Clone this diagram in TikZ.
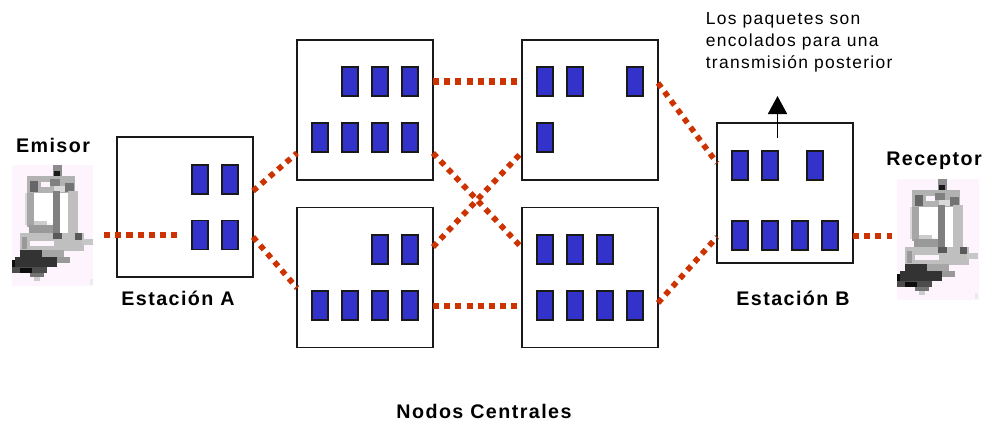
\documentclass[tikz,border=0pt]{standalone}
\usepackage{fontspec}
\setmainfont{Liberation Sans}
\usetikzlibrary{arrows.meta}
\definecolor{azulpaq}{HTML}{3333CC}
\definecolor{rojoenlace}{HTML}{CC3300}
\definecolor{fondopc}{HTML}{FDF4FD}
\begin{document}
\begin{tikzpicture}[x=0.025cm,y=-0.025cm,
                      estacion/.style={rectangle,draw=black!90,fill=white,line width=1.1pt,outer sep=0pt,
                      inner sep=0pt,minimum width=3.4cm,minimum height=3.5cm},
                      paquete/.style={rectangle,fill=azulpaq,draw=black!90,line width=1pt,outer sep=0pt,
                      inner sep=0pt,minimum width=0.4cm,minimum height=0.72cm},
                      enlace/.style={draw=rojoenlace,line width=4.27pt,dash pattern=on 4.27pt off 3.7pt},
                      cruce/.style={draw=rojoenlace,line width=4pt,dash pattern=on 4pt off 3.8pt},
                      icono/.style={rectangle,fill=fondopc,outer sep=0pt,inner sep=0pt,
                      minimum width=2.03cm,minimum height=3.03cm},
                      rotulo/.style={inner sep=0pt,anchor=base,
                      font=\fontsize{14}{16}\selectfont\bfseries\addfontfeature{LetterSpace=7.3}},
                      pc/.pic={
                        \fill[black!45] (41,0) rectangle (50,15);
                        \fill[black!90] (42,6) rectangle (48,13);
                        \fill[black!30] (15,11) rectangle (63,28);
                        \fill[fondopc] (29,17) rectangle (38,22);
                        \fill[black!60] (18,16) rectangle (26,27);
                        \fill[black!50] (38,14) rectangle (48,21);
                        \fill[black!15] (42,21) rectangle (53,27);
                        \fill[black!55] (53,18) rectangle (62,27);
                        \fill[black!15] (13,28) rectangle (15,60);
                        \fill[black!35] (15,28) rectangle (22,62);
                        \fill[black!25] (56,26) rectangle (66,70);
                        \fill[white] (22,28) rectangle (41,58);
                        \fill[white] (48,28) rectangle (56,68);
                        \fill[black!50] (41,26) rectangle (48,70);
                        \fill[black!40] (17,60) rectangle (41,68);
                        \fill[black!20] (22,56) rectangle (35,60);
                        \fill[black!25] (8,68) rectangle (72,86);
                        \fill[fondopc] (18,76) rectangle (42,81);
                        \fill[black!40] (10,72) rectangle (15,84);
                        \fill[black!65] (63,68) rectangle (70,75);
                        \fill[black!65] (41,68) rectangle (50,74);
                        \fill[black!22] (70,74) rectangle (81,80);
                        \fill[black!35] (30,85) rectangle (52,92);
                        \fill[black!40] (45,92) rectangle (58,98);
                        \fill[black!80] (8,85) rectangle (30,92);
                        \fill[black!80] (3,92) rectangle (45,102);
                        \fill[black!95] (0,95) rectangle (3,102);
                        \fill[black!70] (0,102) rectangle (35,108);
                        \fill[black!95] (8,103) rectangle (20,108);
                        \fill[black!55] (18,108) rectangle (32,112);
                        \fill[black!20] (22,112) rectangle (28,116);
                        \fill[black!8] (78,114) rectangle (81,120);
                      }
                     ]
   \useasboundingbox (0,0) rectangle (984,421);
   \node[icono] (emisor) at (52.5,225.5) {};
   \node[icono] (receptor) at (938.0,239.5) {};
   \pic at (emisor.north west) {pc};
   \pic at (receptor.north west) {pc};
   \node[estacion] (estA) at (185.0,207.0) {};
   \node[estacion] (nodoA) at (365.0,110.0) {};
   \node[estacion] (nodoB) at (365.0,277.5) {};
   \node[estacion] (nodoC) at (590.0,110.0) {};
   \node[estacion] (nodoD) at (590.0,277.5) {};
   \node[estacion] (estB) at (785.0,193.0) {};
   \node[paquete] (a1) at (200.0,179.5) {};
   \node[paquete] (a2) at (230.0,179.5) {};
   \node[paquete] (a3) at (200.0,235.0) {};
   \node[paquete] (a4) at (230.0,235.0) {};
   \node[paquete] (na1) at (350.0,81.5) {};
   \node[paquete] (na2) at (380.0,81.5) {};
   \node[paquete] (na3) at (410.0,81.5) {};
   \node[paquete] (na4) at (320.0,137.5) {};
   \node[paquete] (na5) at (350.0,137.5) {};
   \node[paquete] (na6) at (380.0,137.5) {};
   \node[paquete] (na7) at (410.0,137.5) {};
   \node[paquete] (nb1) at (380.0,249.5) {};
   \node[paquete] (nb2) at (410.0,249.5) {};
   \node[paquete] (nb3) at (320.0,305.5) {};
   \node[paquete] (nb4) at (350.0,305.5) {};
   \node[paquete] (nb5) at (380.0,305.5) {};
   \node[paquete] (nb6) at (410.0,305.5) {};
   \node[paquete] (nc1) at (545.0,81.5) {};
   \node[paquete] (nc2) at (575.0,81.5) {};
   \node[paquete] (nc3) at (635.0,81.5) {};
   \node[paquete] (nc4) at (545.0,137.5) {};
   \node[paquete] (nd1) at (545.0,249.5) {};
   \node[paquete] (nd2) at (575.0,249.5) {};
   \node[paquete] (nd3) at (605.0,249.5) {};
   \node[paquete] (nd4) at (545.0,305.5) {};
   \node[paquete] (nd5) at (575.0,305.5) {};
   \node[paquete] (nd6) at (605.0,305.5) {};
   \node[paquete] (nd7) at (635.0,305.5) {};
   \node[paquete] (b1) at (740.0,165.5) {};
   \node[paquete] (b2) at (770.0,165.5) {};
   \node[paquete] (b3) at (815.0,165.5) {};
   \node[paquete] (b4) at (740.0,235.5) {};
   \node[paquete] (b5) at (770.0,235.5) {};
   \node[paquete] (b6) at (800.0,235.5) {};
   \node[paquete] (b7) at (830.0,235.5) {};
   \node[rotulo] (lemisor) at (53.0,152.0) {Emisor};
   \node[rotulo] (lreceptor) at (934.0,165.7) {Receptor};
   \node[rotulo] (lesta) at (178.0,305.7) {Estación A};
   \node[rotulo] (lestb) at (793.0,305.7) {Estación B};
   \node[rotulo] (lcentro) at (484.0,418.0) {Nodos Centrales};
   \node[inner sep=0pt,anchor=north west,align=left,
         font=\fontsize{12.4}{15.7}\selectfont\addfontfeature{LetterSpace=7.5}] (lcola) at (705.5,12.5)
         {Los paquetes son\\encolados para una\\transmisión posterior};
   \coordinate (colaB) at (777.5,138.0);
   \coordinate (puntaB) at (777.5,96.0);
   \draw[-{Triangle[length=12.8pt,width=13.5pt]},line width=1.3pt] (colaB) -- (puntaB);
   \path%
     (emisor.east |- a3) edge [enlace,shorten <=7.8pt,shorten >=10.7pt] (a3.west)
     ([yshift=11.4pt]estA.east) edge [cruce] ([yshift=-30.6pt]nodoA.west)
     ([yshift=-21.3pt]estA.east) edge [cruce] ([yshift=-7.5pt]nodoB.west)
     (nodoA.east |- na3) edge [enlace,shorten >=3.5pt] (nodoC.west |- na3)
     ([yshift=-30.6pt]nodoA.east) edge [cruce] ([yshift=21pt]nodoD.west)
     ([yshift=21.7pt]nodoB.east) edge [cruce] ([yshift=-29.9pt]nodoC.west)
     (nodoB.east |- nb3) edge [enlace,shorten >=3.5pt] (nodoD.west |- nb3)
     ([yshift=19.2pt]nodoC.east) edge [cruce] ([yshift=21.3pt]estB.west)
     ([yshift=-18.1pt]nodoD.east) edge [cruce] ([yshift=-31.3pt]estB.west)
     (estB.east |- b7) edge [enlace,shorten >=3.5pt] (receptor.west |- b7);
\end{tikzpicture}
\end{document}
